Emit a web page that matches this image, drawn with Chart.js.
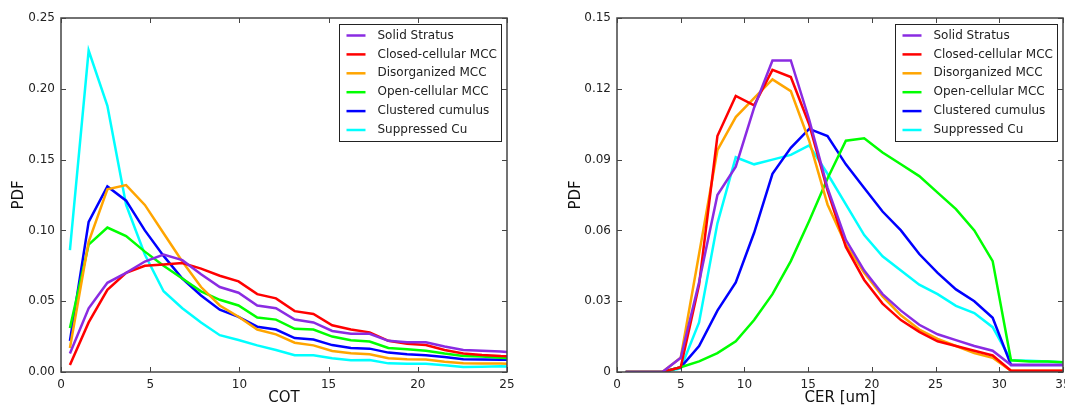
<!DOCTYPE html>
<html>
<head>
<meta charset="utf-8">
<script src="https://cdn.jsdelivr.net/npm/chart.js@4.4.1/dist/chart.umd.min.js"></script>
<style>
  html, body { margin: 0; padding: 0; background: #fff; overflow: hidden; }
  body { width: 1065px; height: 407px; position: relative; }
  canvas { position: absolute; top: 0; }
</style>
</head>
<body>
<canvas id="cot_pdf" width="540" height="407" style="left:0"></canvas>
<canvas id="cer_pdf" width="540" height="407" style="left:540px"></canvas>
<script>
// regimes (legend order) and line colours
const regimes = ['Solid Stratus', 'Closed-cellular MCC', 'Disorganized MCC',
                 'Open-cellular MCC', 'Clustered cumulus', 'Suppressed Cu'];
const colores = ['#8a2be2', '#ff0000', '#ffa500', '#00ff00', '#0000ff', '#00ffff'];

// bin centres
const cotBins = [0.5, 1.55, 2.6, 3.65, 4.7, 5.75, 6.8, 7.85, 8.9, 9.95, 11.0, 12.05, 13.1,
                 14.15, 15.2, 16.25, 17.3, 18.35, 19.4, 20.45, 21.5, 22.55, 23.6, 24.65, 25.7];
const cerBins = [0.68, 2.12, 3.56, 5.0, 6.44, 7.88, 9.32, 10.76, 12.2, 13.64, 15.08, 16.52, 17.96,
                 19.4, 20.84, 22.28, 23.72, 25.16, 26.6, 28.04, 29.48, 30.92, 32.36, 33.8, 35.24];

// COT pdf per regime
const cotSolid   = [0.013, 0.045, 0.063, 0.070, 0.078, 0.083, 0.079, 0.069, 0.060, 0.056, 0.047, 0.045, 0.037,
                    0.035, 0.029, 0.027, 0.027, 0.022, 0.021, 0.021, 0.018, 0.0155, 0.015, 0.0145, 0.0135];
const cotClosed  = [0.005, 0.035, 0.058, 0.070, 0.075, 0.076, 0.077, 0.073, 0.068, 0.064, 0.055, 0.052, 0.043,
                    0.041, 0.033, 0.030, 0.028, 0.022, 0.020, 0.019, 0.0155, 0.013, 0.012, 0.0113, 0.011];
const cotDisorg  = [0.017, 0.092, 0.129, 0.132, 0.118, 0.098, 0.078, 0.060, 0.047, 0.039, 0.030, 0.0266, 0.0207,
                    0.0188, 0.0148, 0.0132, 0.0125, 0.0097, 0.009, 0.0088, 0.0073, 0.0061, 0.006, 0.006, 0.0054];
const cotOpen    = [0.031, 0.090, 0.102, 0.096, 0.085, 0.075, 0.066, 0.057, 0.051, 0.047, 0.0385, 0.037, 0.0305,
                    0.030, 0.025, 0.0225, 0.0215, 0.017, 0.016, 0.015, 0.013, 0.0113, 0.011, 0.010, 0.0095];
const cotCluster = [0.022, 0.106, 0.131, 0.121, 0.100, 0.082, 0.066, 0.054, 0.044, 0.039, 0.032, 0.030, 0.024,
                    0.023, 0.019, 0.017, 0.0165, 0.0137, 0.0125, 0.0118, 0.0106, 0.009, 0.0088, 0.0087, 0.0085];
const cotSupp    = [0.086, 0.227, 0.188, 0.118, 0.083, 0.057, 0.045, 0.035, 0.026, 0.0226, 0.0188, 0.0155, 0.0118,
                    0.0118, 0.0097, 0.0083, 0.0085, 0.0061, 0.0058, 0.0058, 0.0047, 0.0035, 0.0037, 0.004, 0.0037];

// CER pdf per regime
const cerSolid   = [0, 0, 0, 0.006, 0.038, 0.075, 0.087, 0.112, 0.132, 0.132, 0.107, 0.078, 0.056,
                    0.043, 0.033, 0.026, 0.020, 0.016, 0.0135, 0.011, 0.009, 0.003, 0.003, 0.003, 0.003];
const cerClosed  = [0, 0, 0, 0.002, 0.037, 0.100, 0.117, 0.113, 0.128, 0.125, 0.105, 0.077, 0.053,
                    0.039, 0.029, 0.022, 0.017, 0.013, 0.011, 0.009, 0.007, 0.0005, 0.0005, 0.0005, 0.0005];
const cerDisorg  = [0, 0, 0, 0.006, 0.050, 0.094, 0.108, 0.116, 0.124, 0.119, 0.098, 0.071, 0.054,
                    0.042, 0.032, 0.024, 0.018, 0.014, 0.011, 0.008, 0.006, 0.0005, 0.0005, 0.0005, 0.0005];
const cerOpen    = [0, 0, 0, 0.002, 0.0045, 0.008, 0.013, 0.022, 0.033, 0.047, 0.064, 0.082, 0.098,
                    0.099, 0.093, 0.088, 0.083, 0.076, 0.069, 0.060, 0.047, 0.005, 0.0045, 0.0045, 0.004];
const cerCluster = [0, 0, 0, 0.002, 0.011, 0.026, 0.038, 0.059, 0.084, 0.095, 0.103, 0.100, 0.088,
                    0.078, 0.068, 0.060, 0.050, 0.042, 0.035, 0.030, 0.023, 0.003, 0.003, 0.003, 0.003];
const cerSupp    = [0, 0, 0, 0.0015, 0.021, 0.063, 0.091, 0.088, 0.090, 0.092, 0.096, 0.084, 0.071,
                    0.058, 0.049, 0.043, 0.037, 0.033, 0.028, 0.025, 0.019, 0.005, 0.0048, 0.0045, 0.004];

const FUENTE = "'DejaVu Sans', 'Bitstream Vera Sans', sans-serif";
const ALTO = 407, AREA_TOP = 18, AREA_BOTTOM = 372;

// matplotlib style box: frame, inward ticks on the 4 sides, legend inside upper right
const marcoLeyenda = {
  id: 'marcoLeyenda',
  afterDatasetsDraw(chart) {
    const ctx = chart.ctx;
    const a = chart.chartArea;
    const sx = chart.scales.x, sy = chart.scales.y;
    ctx.save();
    ctx.strokeStyle = '#444';
    ctx.lineWidth = 1;
    ctx.beginPath();
    sx.ticks.forEach(t => {
      const px = Math.round(sx.getPixelForValue(t.value)) + 0.5;
      ctx.moveTo(px, a.bottom); ctx.lineTo(px, a.bottom - 5);
      ctx.moveTo(px, a.top); ctx.lineTo(px, a.top + 5);
    });
    sy.ticks.forEach(t => {
      const py = Math.round(sy.getPixelForValue(t.value)) + 0.5;
      ctx.moveTo(a.left, py); ctx.lineTo(a.left + 5, py);
      ctx.moveTo(a.right, py); ctx.lineTo(a.right - 5, py);
    });
    ctx.stroke();
    ctx.lineWidth = 1.5;
    ctx.strokeRect(a.left, a.top, a.right - a.left, a.bottom - a.top);

    // legend
    const w = 162, h = 117;
    const x0 = Math.round(a.right - 6 - w) + 0.5, y0 = Math.round(a.top + 6) + 0.5;
    ctx.fillStyle = '#fff';
    ctx.fillRect(x0, y0, w, h);
    ctx.strokeStyle = '#222';
    ctx.lineWidth = 1;
    ctx.strokeRect(x0, y0, w, h);
    ctx.font = '12px ' + FUENTE;
    ctx.textBaseline = 'middle';
    ctx.textAlign = 'left';
    chart.data.datasets.forEach((ds, i) => {
      const y = y0 + 11 + i * 18.9;
      ctx.strokeStyle = ds.borderColor;
      ctx.lineWidth = 2.5;
      ctx.beginPath();
      ctx.moveTo(x0 + 7, y); ctx.lineTo(x0 + 26, y);
      ctx.stroke();
      ctx.fillStyle = '#222';
      ctx.fillText(ds.label, x0 + 38, y);
    });
    ctx.restore();
  }
};

function pdf_chart(id, bins, series, xMax, yMax, yStep, xTitulo, plotLeft, plotRight, tituloPad, fmt) {
  const canvas = document.getElementById(id);
  new Chart(canvas, {
    type: 'line',
    data: {
      datasets: series.map((serie, i) => ({
        label: regimes[i],
        data: bins.map((b, j) => ({ x: b, y: serie[j] })),
        borderColor: colores[i],
        backgroundColor: colores[i],
        borderWidth: 2.5,
        pointRadius: 0,
        tension: 0,
        fill: false,
        clip: 0
      }))
    },
    options: {
      responsive: false,
      animation: false,
      devicePixelRatio: 1,
      layout: { padding: { left: 0, right: canvas.width - plotRight, top: AREA_TOP, bottom: 0 } },
      plugins: { legend: { display: false }, tooltip: { enabled: false } },
      scales: {
        x: {
          type: 'linear', min: 0, max: xMax,
          grid: { display: false, drawTicks: false },
          border: { display: false },
          ticks: { stepSize: 5, padding: 6, autoSkip: false, maxRotation: 0, color: '#222',
                   font: { family: FUENTE, size: 12 } },
          title: { display: true, text: xTitulo, color: '#111', padding: { top: 0, bottom: 0 },
                   font: { family: FUENTE, size: 15, lineHeight: 1.15 } },
          afterFit(scale) { scale.height = ALTO - AREA_BOTTOM; }
        },
        y: {
          min: 0, max: yMax,
          grid: { display: false, drawTicks: false },
          border: { display: false },
          ticks: { stepSize: yStep, padding: 6, color: '#222', font: { family: FUENTE, size: 12 },
                   callback: fmt },
          title: { display: true, text: 'PDF', color: '#111', padding: { top: tituloPad, bottom: 0 },
                   font: { family: FUENTE, size: 15, lineHeight: 1.2 } },
          afterFit(scale) { scale.width = plotLeft; }
        }
      }
    },
    plugins: [marcoLeyenda]
  });
}

pdf_chart('cot_pdf', cotBins,
  [cotSolid, cotClosed, cotDisorg, cotOpen, cotCluster, cotSupp],
  25, 0.25, 0.05, 'COT', 61, 507, 10, v => v.toFixed(2));

pdf_chart('cer_pdf', cerBins,
  [cerSolid, cerClosed, cerDisorg, cerOpen, cerCluster, cerSupp],
  35, 0.15, 0.03, 'CER [um]', 77, 523, 27, v => (v === 0 ? '0' : v.toFixed(2)));
</script>
</body>
</html>
